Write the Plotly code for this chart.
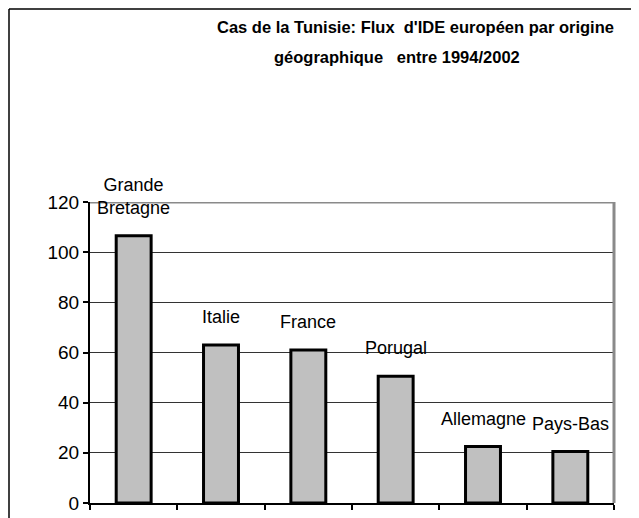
import plotly.graph_objects as go

# Flux d'IDE européen en Tunisie par origine (1994-2002)
pays = ["Grande<br>Bretagne", "Italie", "France", "Porugal", "Allemagne", "Pays-Bas"]
flux = [106.5, 63, 61, 50.5, 22.5, 20.5]
y_ticks = [0, 20, 40, 60, 80, 100, 120]

FONT = "Liberation Sans, Arial, sans-serif"

# la page a une marge de 8 px : tout est décalé de 8 px
L, T, W, H = 82, 194, 524, 301


def px_x(x):
    return (x - 8 - L) / W


def px_y(y):
    return (T + H - (y - 8)) / H


fig = go.Figure()
fig.add_trace(go.Bar(
    x=list(range(len(pays))),
    y=flux,
    width=0.4,
    marker=dict(color="#c0c0c0", line=dict(color="black", width=3)),
    hoverinfo="skip",
))

# étiquettes au-dessus des barres
for i, (p, v) in enumerate(zip(pays, flux)):
    fig.add_annotation(
        x=i, y=v, text=p, showarrow=False, yanchor="bottom",
        yshift=16, font=dict(size=18, color="black", family=FONT),
    )

# titre sur deux lignes
titre = ["Cas de la Tunisie: Flux\u00a0 d'IDE européen par origine",
         "géographique\u00a0\u00a0 entre 1994/2002"]
for txt, cx, cy in zip(titre, [415, 397], [27, 57]):
    fig.add_annotation(
        x=px_x(cx), y=px_y(cy), xref="paper", yref="paper",
        text="<b>" + txt + "</b>", showarrow=False,
        xanchor="center", yanchor="middle",
        font=dict(size=16.5, color="black", family=FONT),
    )

edge_l, edge_t, edge_r = px_x(9), px_y(9), px_x(636)
shapes = [
    # cadre gris haut / droite
    dict(type="line", xref="paper", yref="y", x0=0, x1=1, y0=120, y1=120,
         line=dict(color="#8a8a8a", width=3)),
    dict(type="line", xref="paper", yref="y", x0=1, x1=1, y0=0, y1=120,
         line=dict(color="#8a8a8a", width=3)),
    # bordure extérieure
    dict(type="line", xref="paper", yref="paper", x0=edge_l, x1=edge_l,
         y0=-1, y1=edge_t, line=dict(color="black", width=1.5)),
    dict(type="line", xref="paper", yref="paper", x0=edge_l, x1=edge_r,
         y0=edge_t, y1=edge_t, line=dict(color="black", width=1.5)),
    dict(type="line", xref="paper", yref="paper", x0=edge_r, x1=edge_r,
         y0=-1, y1=edge_t, line=dict(color="black", width=1.5)),
]

fig.update_xaxes(
    type="linear", range=[-0.5, 5.5], tickvals=[-0.5, 0.5, 1.5, 2.5, 3.5, 4.5, 5.5],
    showticklabels=False, ticks="outside", ticklen=5, tickwidth=1.5, tickcolor="black",
    showline=True, linecolor="black", linewidth=2, showgrid=False, zeroline=False,
)
fig.update_yaxes(
    range=[0, 120], tickvals=y_ticks, ticks="outside", ticklen=5, tickwidth=1.5,
    tickcolor="black", showline=True, linecolor="black", linewidth=2,
    showgrid=True, gridcolor="#333333", gridwidth=1, zeroline=False,
    tickfont=dict(size=19, color="black", family=FONT),
)
fig.update_layout(
    width=631, height=510,
    margin=dict(l=L, r=631 - L - W, t=T, b=510 - T - H, autoexpand=False),
    paper_bgcolor="white", plot_bgcolor="white",
    showlegend=False,
    shapes=shapes,
)

fig.write_html("out.html")
